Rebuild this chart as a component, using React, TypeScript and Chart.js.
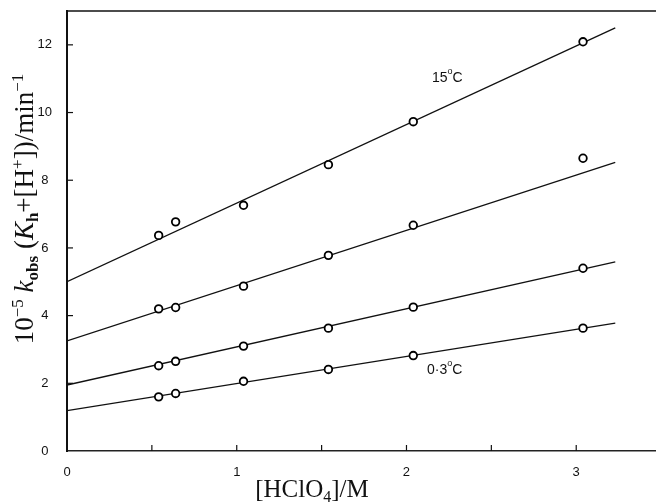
import React, { useEffect, useRef } from 'react';
import { Chart, registerables } from 'chart.js';
Chart.register(...registerables);

// Measured data (x = [HClO4]/M)
const xValues = [0.54, 0.64, 1.04, 1.54, 2.04, 3.04];
const series15 = [6.37, 6.77, 7.26, 8.46, 9.73, 12.09];
const seriesB = [4.2, 4.24, 4.87, 5.78, 6.67, 8.65];
const seriesC = [2.52, 2.65, 3.1, 3.63, 4.25, 5.4];
const series03 = [1.6, 1.7, 2.06, 2.41, 2.82, 3.63];

// Fitted straight lines (end points)
const fitX = [0, 3.23];
const fit15 = [5.0, 12.5];
const fitB = [3.25, 8.53];
const fitC = [1.95, 5.59];
const fit03 = [1.19, 3.78];

const xTicks = [0, 0.5, 1, 1.5, 2, 2.5, 3];
const yTicks = [0, 2, 4, 6, 8, 10, 12];

type Seg = { t: string; font: string; dy?: number };

function segWidth(ctx: CanvasRenderingContext2D, segs: Seg[]) {
  let w = 0;
  for (const s of segs) {
    ctx.font = s.font;
    w += ctx.measureText(s.t).width;
  }
  return w;
}

function drawSegs(ctx: CanvasRenderingContext2D, segs: Seg[], x: number, y: number) {
  let cx = x;
  for (const s of segs) {
    ctx.font = s.font;
    ctx.fillText(s.t, cx, y + (s.dy || 0));
    cx += ctx.measureText(s.t).width;
  }
}

const SERIF = '"Liberation Serif", "Times New Roman", serif';
const SANS = '"Liberation Sans", Arial, sans-serif';

const yTitle: Seg[] = [
  { t: '10', font: `27px ${SERIF}` },
  { t: '\u22125', font: `17px ${SERIF}`, dy: -10 },
  { t: ' ', font: `27px ${SERIF}` },
  { t: 'k', font: `italic 27px ${SERIF}` },
  { t: 'obs', font: `bold 17px ${SERIF}`, dy: 5 },
  { t: ' (', font: `27px ${SERIF}` },
  { t: 'K', font: `italic 27px ${SERIF}` },
  { t: 'h', font: `bold 17px ${SERIF}`, dy: 5 },
  { t: '+[H', font: `27px ${SERIF}` },
  { t: '+', font: `17px ${SERIF}`, dy: -10 },
  { t: '])/min', font: `27px ${SERIF}` },
  { t: '\u22121', font: `17px ${SERIF}`, dy: -10 },
];

const xTitle: Seg[] = [
  { t: '[HClO', font: `25px ${SERIF}` },
  { t: '4', font: `16px ${SERIF}`, dy: 5 },
  { t: ']/M', font: `25px ${SERIF}` },
];

const label15: Seg[] = [
  { t: '15', font: `14px ${SANS}` },
  { t: 'o', font: `9px ${SANS}`, dy: -8 },
  { t: 'C', font: `14px ${SANS}` },
];
const label03: Seg[] = [
  { t: '0\u00B73', font: `14px ${SANS}` },
  { t: 'o', font: `9px ${SANS}`, dy: -8 },
  { t: 'C', font: `14px ${SANS}` },
];

const decorPlugin = {
  id: 'decor',
  afterDraw(chart: any) {
    const ctx: CanvasRenderingContext2D = chart.ctx;
    const { left, right, top, bottom } = chart.chartArea;
    const xs = chart.scales.x;
    const ys = chart.scales.y;
    ctx.save();
    ctx.strokeStyle = '#111';
    ctx.fillStyle = '#111';
    // top border
    ctx.lineWidth = 1.5;
    ctx.beginPath();
    ctx.moveTo(left, top);
    ctx.lineTo(right, top);
    ctx.stroke();
    // inward tick marks
    ctx.lineWidth = 1.2;
    for (const v of xTicks) {
      if (v === 0) continue;
      const px = xs.getPixelForValue(v);
      ctx.beginPath();
      ctx.moveTo(px, bottom);
      ctx.lineTo(px, bottom - 6);
      ctx.stroke();
    }
    for (const v of yTicks) {
      if (v === 0) continue;
      const py = ys.getPixelForValue(v);
      ctx.beginPath();
      ctx.moveTo(left, py);
      ctx.lineTo(left + 6, py);
      ctx.stroke();
    }
    // annotations
    ctx.textBaseline = 'alphabetic';
    ctx.textAlign = 'left';
    drawSegs(ctx, label15, 432, 82);
    drawSegs(ctx, label03, 427, 374);
    // x title
    const wx = segWidth(ctx, xTitle);
    drawSegs(ctx, xTitle, 312 - wx / 2, 497);
    // y title
    const wy = segWidth(ctx, yTitle);
    ctx.translate(33, 209);
    ctx.rotate(-Math.PI / 2);
    drawSegs(ctx, yTitle, -wy / 2, 0);
    ctx.restore();
  },
};

function pts(xv: number[], yv: number[]) {
  return xv.map((x, i) => ({ x, y: yv[i] }));
}

export default function App() {
  const ref = useRef<HTMLCanvasElement | null>(null);
  useEffect(() => {
    document.body.style.margin = '0';
    const canvas = ref.current!;
    const lineDs = (yv: number[]) => ({
      type: 'line' as const,
      data: pts(fitX, yv),
      borderColor: '#111',
      borderWidth: 1.3,
      pointRadius: 0,
      fill: false,
      order: 2,
    });
    const ptDs = (yv: number[]) => ({
      type: 'scatter' as const,
      data: pts(xValues, yv),
      showLine: false,
      borderColor: '#000',
      backgroundColor: '#fff',
      pointBackgroundColor: '#fff',
      pointBorderColor: '#000',
      pointBorderWidth: 1.8,
      pointRadius: 3.8,
      order: 1,
    });
    const chart = new Chart(canvas, {
      type: 'scatter',
      data: {
        datasets: [
          lineDs(fit15), lineDs(fitB), lineDs(fitC), lineDs(fit03),
          ptDs(series15), ptDs(seriesB), ptDs(seriesC), ptDs(series03),
        ] as any,
      },
      options: {
        animation: false,
        responsive: false,
        layout: { autoPadding: false, padding: { top: 11, right: 0, left: 0, bottom: 0 } },
        plugins: { legend: { display: false }, tooltip: { enabled: false } },
        scales: {
          x: {
            type: 'linear',
            min: 0,
            max: 3.47,
            afterBuildTicks: (s: any) => { s.ticks = xTicks.map((v) => ({ value: v })); },
            afterFit: (s: any) => { s.height = 51; s.paddingLeft = 0; s.paddingRight = 0; },
            ticks: {
              callback: (v: any) => (Number.isInteger(v) ? String(v) : ''),
              color: '#111',
              font: { family: SANS, size: 13 },
              padding: 6,
              maxRotation: 0,
              autoSkip: false,
            },
            grid: { display: false },
            border: { display: true, color: '#222', width: 1.5 },
          },
          y: {
            type: 'linear',
            min: 0,
            max: 13,
            afterBuildTicks: (s: any) => { s.ticks = yTicks.map((v) => ({ value: v })); },
            afterFit: (s: any) => { s.width = 67; s.paddingTop = 0; s.paddingBottom = 0; },
            ticks: {
              callback: (v: any) => String(v),
              color: '#111',
              font: { family: SANS, size: 13 },
              padding: 7,
              crossAlign: 'center',
              autoSkip: false,
            },
            grid: { display: false },
            border: { display: true, color: '#111', width: 2 },
          },
        },
      },
      plugins: [decorPlugin],
    } as any);
    return () => chart.destroy();
  }, []);
  return <canvas ref={ref} width={656} height={502} style={{ display: 'block' }} />;
}
